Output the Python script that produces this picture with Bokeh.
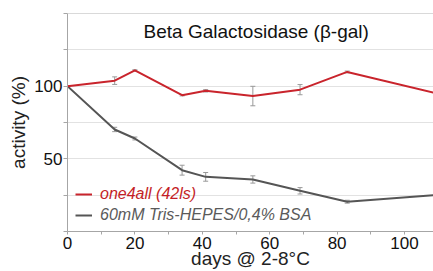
from bokeh.plotting import figure
from bokeh.models import (ColumnDataSource, Whisker, Legend, LegendItem, Label,
                          FixedTicker, Span, Range1d)
from bokeh.embed import file_html
from bokeh.resources import INLINE

# ---- data ----
days = [0, 14, 20, 34, 41, 55, 69, 83, 111]
one4all = [100, 103.8, 110.8, 93.8, 96.8, 93.2, 97.6, 109.8, 94.2]
one4all_err = [0, 2.6, 0.5, 0.5, 0.8, 6.7, 3.5, 0.6, 0]
tris = [100, 70.2, 64.0, 42.2, 37.6, 35.8, 28.0, 20.5, 25.4]
tris_err = [0, 1.5, 1.0, 3.4, 3.0, 2.5, 2.2, 1.0, 0]

series_names = ["one4all (42ls)", "60mM Tris-HEPES/0,4% BSA"]
title_text = "Beta Galactosidase (\u03b2-gal)"
x_label = "days @ 2-8\u00b0C"
y_label = "activity (%)"
x_ticks = [0, 20, 40, 60, 80, 100]
x_minor = [10, 30, 50, 70, 90, 110]
y_ticks = [0, 25, 50, 75, 100, 125, 150]
y_labels = {0: "", 25: "", 50: "50", 75: "", 100: "100", 125: "", 150: ""}

FONT = "Liberation Sans"
RED = "#c9242c"
GRAY = "#555555"

p = figure(width=433, height=271, output_backend="svg", toolbar_location=None,
           x_range=Range1d(0, 108.6), y_range=Range1d(0, 150),
           min_border_left=67, min_border_right=0, min_border_top=13,
           min_border_bottom=39)
p.outline_line_color = None
p.background_fill_color = "white"

# axes
p.xaxis.ticker = FixedTicker(ticks=x_ticks, minor_ticks=x_minor)
p.yaxis.ticker = FixedTicker(ticks=y_ticks, minor_ticks=[])
p.yaxis.major_label_overrides = y_labels
for ax in (p.xaxis[0], p.yaxis[0]):
    ax.axis_line_color = "#a6a6a6"
    ax.major_tick_line_color = "#a6a6a6"
    ax.minor_tick_line_color = "#a6a6a6"
    ax.major_tick_in = 0
    ax.minor_tick_in = 0
    ax.major_label_text_font = FONT
    ax.major_label_text_font_size = "17px"
    ax.major_label_text_color = "#111111"
    ax.axis_label_text_font = FONT
    ax.axis_label_text_font_style = "normal"
    ax.axis_label_text_font_size = "19px"
    ax.axis_label_text_color = "#222222"
p.xaxis.major_tick_out = 3
p.xaxis.minor_tick_out = 3
p.yaxis.major_tick_out = 4
p.yaxis.minor_tick_out = 0
p.xaxis.major_label_standoff = 2
p.xaxis.axis_label = x_label
p.xaxis.axis_label_standoff = -4
p.yaxis.axis_label = y_label
p.yaxis.major_label_standoff = 1
p.yaxis.axis_label_standoff = 2

p.xgrid.visible = False
p.ygrid.ticker = FixedTicker(ticks=y_ticks[:-1])
p.ygrid.grid_line_color = "#e2e2e2"
p.ygrid.grid_line_width = 1
p.add_layout(Span(location=150, dimension="width", line_color="#b3b3b3", line_width=1))

# series
src1 = ColumnDataSource(dict(x=days, y=one4all,
                             lo=[v - e for v, e in zip(one4all, one4all_err)],
                             hi=[v + e for v, e in zip(one4all, one4all_err)]))
src2 = ColumnDataSource(dict(x=days, y=tris,
                             lo=[v - e for v, e in zip(tris, tris_err)],
                             hi=[v + e for v, e in zip(tris, tris_err)]))

for src in (src1, src2):
    w = Whisker(source=src, base="x", lower="lo", upper="hi",
                line_color="#999999", line_width=1)
    w.upper_head.size = 5
    w.lower_head.size = 5
    w.upper_head.line_color = "#999999"
    w.lower_head.line_color = "#999999"
    p.add_layout(w)

r2 = p.line("x", "y", source=src2, line_color=GRAY, line_width=2)
r1 = p.line("x", "y", source=src1, line_color=RED, line_width=2)

# legends (separate so each text keeps its series colour)
def make_legend(label, rend, color, loc):
    lg = Legend(items=[LegendItem(label=label, renderers=[rend])], location=loc,
                orientation="vertical", padding=0, margin=0, spacing=0,
                glyph_width=17, glyph_height=16, label_height=16,
                label_standoff=8, border_line_color=None,
                background_fill_alpha=0,
                label_text_font=FONT, label_text_font_size="16px",
                label_text_font_style="italic", label_text_color=color)
    return lg

p.add_layout(make_legend(series_names[0], r1, "#c41e26", (8, 28)), "center")
p.add_layout(make_legend(series_names[1], r2, "#5a5a5a", (8, 7)), "center")

# title drawn inside the plot area
p.add_layout(Label(x=56, y=137.5, text=title_text, text_align="center",
                   text_baseline="middle", text_font=FONT,
                   text_font_size="19px", text_color="#111111"))

open("out.html", "w").write(file_html(p, INLINE))
